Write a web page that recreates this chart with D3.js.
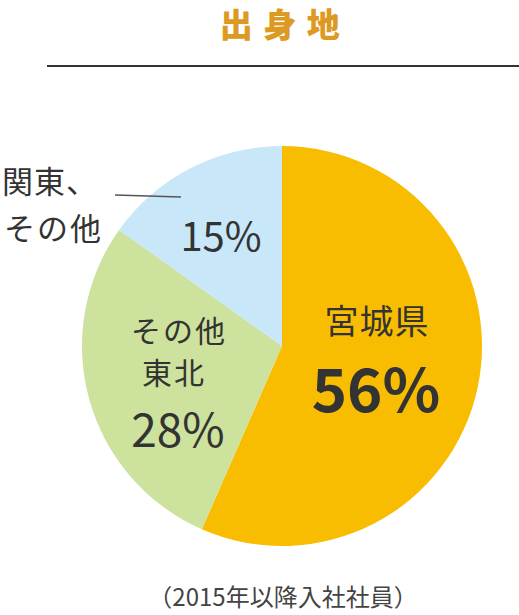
<!DOCTYPE html>
<html>
<head>
<meta charset="utf-8">
<script src="https://cdn.jsdelivr.net/npm/d3@7"></script>
<style>
  html, body { margin: 0; padding: 0; background: #fff; }
  svg { display: block; font-family: "Noto Sans CJK JP", "Noto Sans", sans-serif; }
</style>
</head>
<body>
<svg id="chart" width="519" height="615"></svg>
<script>
// 出身地 (2015年以降入社社員)
const regions = ['宮城県', 'その他東北', '関東、その他'];
const shares = [56, 28, 15];
const colors = ['#f8bd00', '#cde29d', '#c8e7f8'];

const svg = d3.select('#chart');
const cx = 282, cy = 346, radius = 200;

// title + rule
svg.append('text')
  .attr('x', 285).attr('y', 37)
  .attr('text-anchor', 'middle')
  .attr('font-size', 33).attr('font-weight', 900)
  .attr('letter-spacing', 10.5)
  .attr('fill', '#dd9a22')
  .text('出身地');

svg.append('line')
  .attr('x1', 47).attr('x2', 519)
  .attr('y1', 66).attr('y2', 66)
  .attr('stroke', '#333').attr('stroke-width', 2);

const pie = d3.pie().sort(null).value(function (d) { return d; });
const arc = d3.arc().innerRadius(0).outerRadius(radius);
const arcs = pie(shares);

const g = svg.append('g').attr('transform', 'translate(' + cx + ',' + cy + ')');

g.selectAll('path')
  .data(arcs)
  .join('path')
  .attr('d', arc)
  .attr('fill', function (d, i) { return colors[i]; });

// slice labels
function label(x, y, size, weight, txt, ls) {
  svg.append('text')
    .attr('x', x).attr('y', y)
    .attr('text-anchor', 'middle')
    .attr('font-size', size).attr('font-weight', weight)
    .attr('letter-spacing', ls || 0)
    .attr('fill', '#333')
    .text(txt);
}

// 宮城県
label(377, 334, 34, 400, regions[0], 1);
label(376, 412, 60, 700, shares[0] + '%');

// その他東北
label(179, 342, 30, 400, 'その他', 2);
label(174, 384, 30, 400, '東北', 2);
label(178, 447, 46, 400, shares[1] + '%');

// 関東、その他 (outside)
svg.append('text').attr('x', 2).attr('y', 193)
  .attr('font-size', 31).attr('fill', '#333').attr('letter-spacing', 1)
  .text('関東、');
svg.append('text').attr('x', 4).attr('y', 240)
  .attr('font-size', 31).attr('fill', '#333').attr('letter-spacing', 2)
  .text('その他');
svg.append('line')
  .attr('x1', 115).attr('y1', 195)
  .attr('x2', 181).attr('y2', 197)
  .attr('stroke', '#555').attr('stroke-width', 1.5);
label(221, 251, 40, 400, shares[2] + '%');

// footnote
svg.append('text')
  .attr('x', 283).attr('y', 606)
  .attr('text-anchor', 'middle')
  .attr('font-size', 24).attr('fill', '#444')
  .text('（2015年以降入社社員）');
</script>
</body>
</html>
